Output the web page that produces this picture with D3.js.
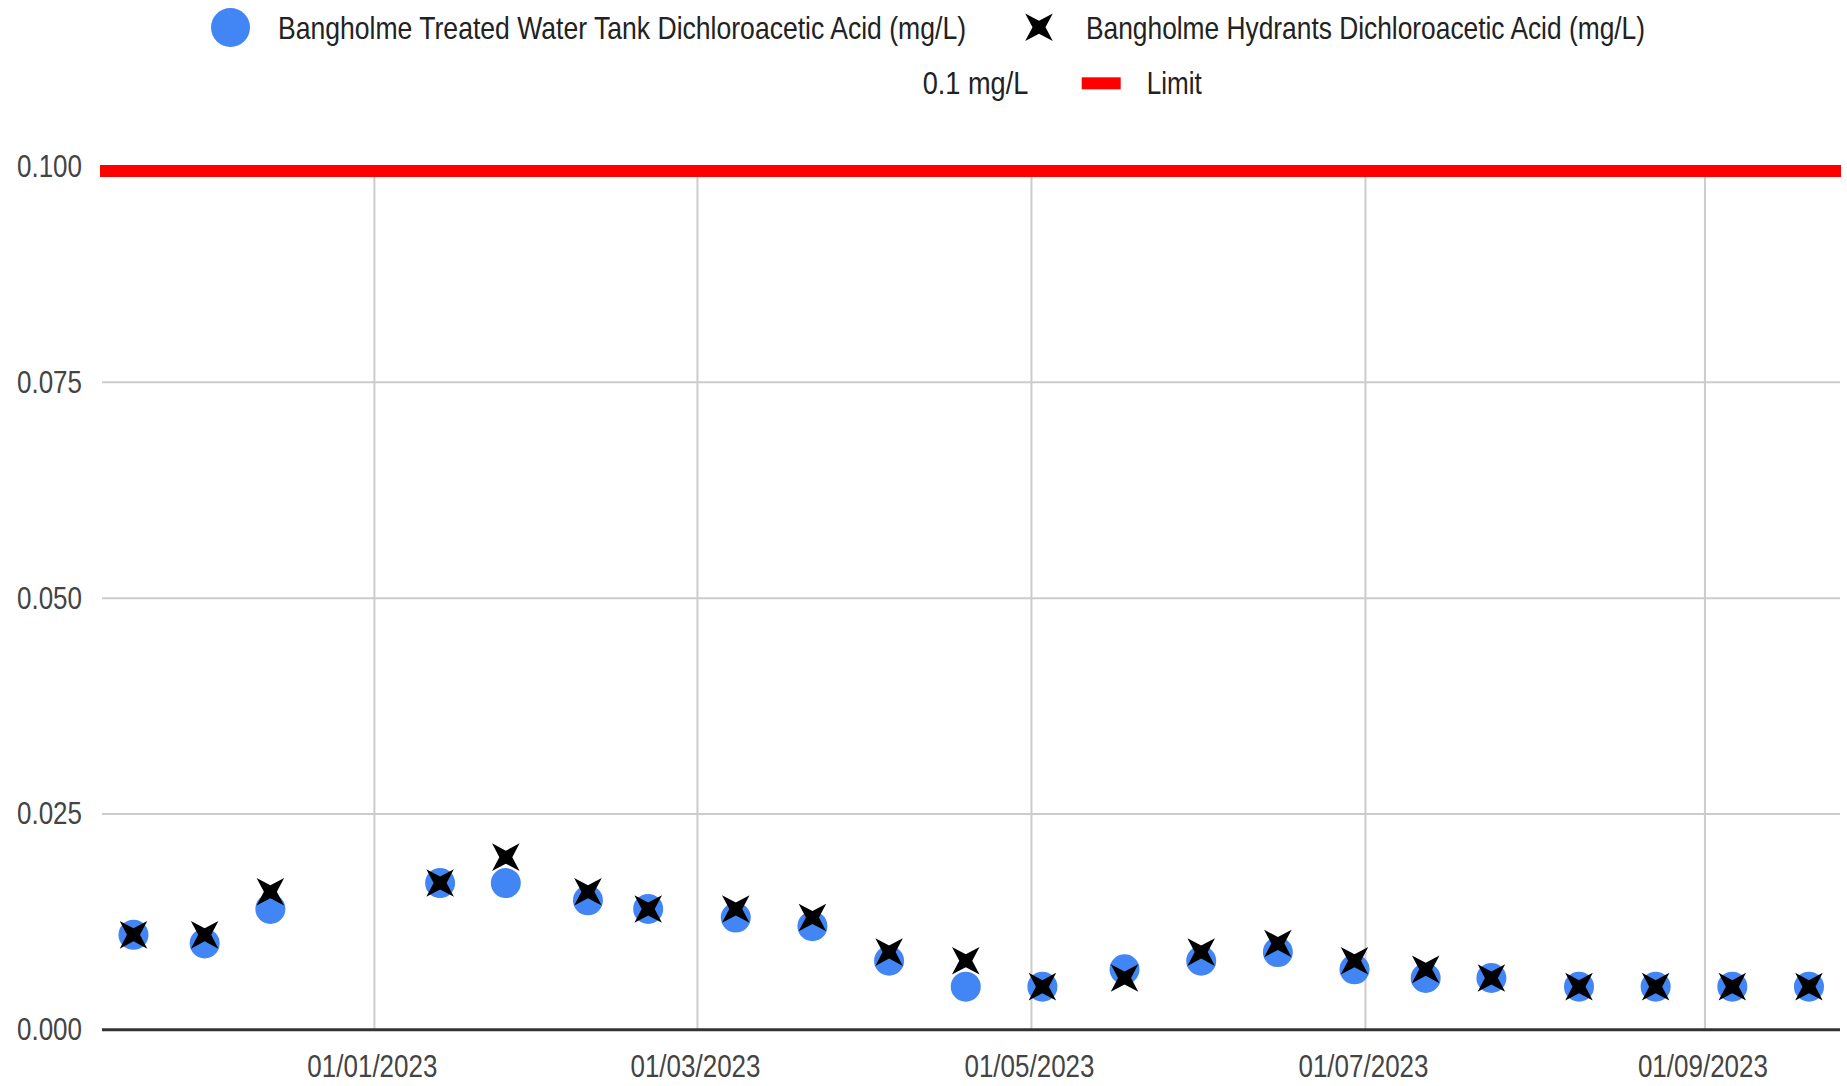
<!DOCTYPE html>
<html>
<head>
<meta charset="utf-8">
<script src="https://cdn.jsdelivr.net/npm/d3@7"></script>
<style>
  html, body { margin: 0; padding: 0; background: #fff; }
  svg { display: block; }
  text { font-family: "Liberation Sans", Arial, sans-serif; }
</style>
</head>
<body>
<svg id="chart" width="1847" height="1086"></svg>
<script>
// ---- data ----
const sampleDates = [
  "2022-11-18","2022-12-01","2022-12-13","2023-01-13","2023-01-25","2023-02-09",
  "2023-02-20","2023-03-08","2023-03-22","2023-04-05","2023-04-19","2023-05-03",
  "2023-05-18","2023-06-01","2023-06-15","2023-06-29","2023-07-12","2023-07-24",
  "2023-08-09","2023-08-23","2023-09-06","2023-09-20"
];
const tankValues = [
  0.011, 0.010, 0.014, 0.017, 0.017, 0.015, 0.014, 0.013, 0.012, 0.008, 0.005,
  0.005, 0.007, 0.008, 0.009, 0.007, 0.006, 0.006, 0.005, 0.005, 0.005, 0.005
];
const hydrantValues = [
  0.011, 0.011, 0.016, 0.017, 0.020, 0.016, 0.014, 0.014, 0.013, 0.009, 0.008,
  0.005, 0.006, 0.009, 0.010, 0.008, 0.007, 0.006, 0.005, 0.005, 0.005, 0.005
];
const limitValue = 0.1;
const xDomain = ["2022-11-12T06:00:00Z", "2023-09-25T16:00:00Z"];
const xTickDates = ["2023-01-01","2023-03-01","2023-05-01","2023-07-01","2023-09-01"];
const yTicks = [0, 0.025, 0.05, 0.075, 0.1];
const seriesNames = [
  "Bangholme Treated Water Tank Dichloroacetic Acid (mg/L)",
  "Bangholme Hydrants Dichloroacetic Acid (mg/L)",
  "0.1 mg/L",
  "Limit"
];

// ---- layout ----
const svg = d3.select("#chart");
const plot = { left: 102, right: 1840, top: 166.5, bottom: 1029.8 };
const parse = s => new Date(s.length === 10 ? s + "T00:00:00Z" : s);
const x = d3.scaleUtc().domain(xDomain.map(parse)).range([plot.left, plot.right]);
const y = d3.scaleLinear().domain([0, 0.1]).range([plot.bottom, plot.top]);
const SY = 1.18; // vertical text stretch
const fmtDate = d3.utcFormat("%d/%m/%Y");

// gridlines (horizontal)
svg.append("g").selectAll("line").data(yTicks.filter(t => t > 0)).join("line")
  .attr("x1", plot.left).attr("x2", plot.right)
  .attr("y1", d => y(d)).attr("y2", d => y(d))
  .attr("stroke", "#cccccc").attr("stroke-width", 2);

// gridlines (vertical)
svg.append("g").selectAll("line").data(xTickDates.map(parse)).join("line")
  .attr("x1", d => x(d)).attr("x2", d => x(d))
  .attr("y1", plot.top).attr("y2", plot.bottom)
  .attr("stroke", "#cccccc").attr("stroke-width", 2);

// y axis labels
const yAxis = d3.axisLeft(y).tickValues(yTicks).tickFormat(d3.format(".3f")).tickSize(0);
const gy = svg.append("g").attr("transform", `translate(${82},0)`).call(yAxis);
gy.select(".domain").remove();
gy.selectAll("text")
  .attr("x", 0).attr("dy", null).attr("y", 0)
  .attr("fill", "#444").attr("font-size", 26).attr("text-anchor", "end")
  .attr("font-family", "Liberation Sans, Arial, sans-serif");
gy.selectAll(".tick").attr("transform", d => `translate(0,${y(d) + 10.5}) scale(1,${SY})`);

// x axis labels
const xAxis = d3.axisBottom(x).tickValues(xTickDates.map(parse)).tickFormat(fmtDate).tickSize(0);
const gx = svg.append("g").call(xAxis);
gx.select(".domain").remove();
gx.selectAll("text")
  .attr("y", 0).attr("dy", null).attr("x", 0)
  .attr("fill", "#444").attr("font-size", 26).attr("text-anchor", "middle")
  .attr("font-family", "Liberation Sans, Arial, sans-serif");
gx.selectAll(".tick").attr("transform", d => `translate(${x(d) - 2},${1077.3}) scale(1,${SY})`);

// baseline axis
svg.append("line")
  .attr("x1", plot.left).attr("x2", plot.right)
  .attr("y1", y(0)).attr("y2", y(0))
  .attr("stroke", "#333333").attr("stroke-width", 3);

// limit line
svg.append("line")
  .attr("x1", x.range()[0] - 2).attr("x2", x.range()[1] + 1)
  .attr("y1", y(limitValue)).attr("y2", y(limitValue))
  .attr("transform", "translate(0,4.5)")
  .attr("stroke", "#ff0000").attr("stroke-width", 12);

// star (X) marker path
function xStar(R, r) {
  const pts = [];
  for (let i = 0; i < 8; i++) {
    const a = Math.PI / 4 + i * Math.PI / 4;
    const rad = i % 2 === 0 ? R : r;
    pts.push([rad * Math.cos(a), rad * Math.sin(a)]);
  }
  return "M" + pts.map(p => p.join(",")).join("L") + "Z";
}
const starPath = xStar(19.5, 6.5);

const points = sampleDates.map((d, i) => ({ date: parse(d), tank: tankValues[i], hyd: hydrantValues[i] }));

// tank circles
svg.append("g").selectAll("circle").data(points).join("circle")
  .attr("cx", d => x(d.date)).attr("cy", d => y(d.tank)).attr("r", 15)
  .attr("fill", "#4285f4");

// hydrant X markers
svg.append("g").selectAll("path").data(points).join("path")
  .attr("d", starPath)
  .attr("transform", d => `translate(${x(d.date)},${y(d.hyd)})`)
  .attr("fill", "#000");

// ---- legend ----
const leg = svg.append("g");
leg.append("circle").attr("cx", 230.5).attr("cy", 27.5).attr("r", 19.5).attr("fill", "#4285f4");
leg.append("path").attr("d", xStar(19.5, 6.5)).attr("transform", "translate(1039,27.2)").attr("fill", "#000");
leg.append("rect").attr("x", 1081.7).attr("y", 77.3).attr("width", 39).attr("height", 12).attr("fill", "#ff0000");

const legendTexts = [
  { t: seriesNames[0], x: 278, y: 39.3, w: 688 },
  { t: seriesNames[1], x: 1086, y: 39.3, w: 559 },
  { t: seriesNames[2], x: 922.7, y: 94.3, w: 105.6 },
  { t: seriesNames[3], x: 1146.7, y: 94.3, w: 55 }
];
leg.selectAll("text.lg").data(legendTexts).join("text")
  .attr("class", "lg")
  .attr("transform", d => `translate(${d.x},${d.y}) scale(1,${SY})`)
  .attr("font-size", 26).attr("fill", "#222")
  .attr("textLength", d => d.w).attr("lengthAdjust", "spacingAndGlyphs")
  .text(d => d.t);
</script>
</body>
</html>
